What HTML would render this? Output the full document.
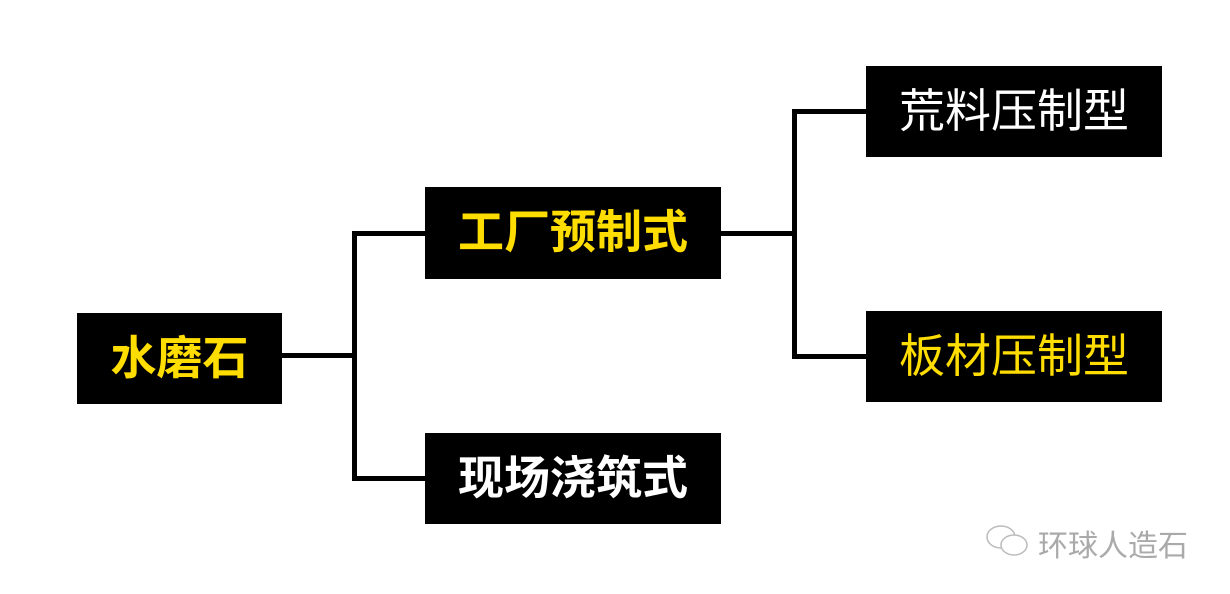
<!DOCTYPE html>
<html><head><meta charset="utf-8"><style>
body{margin:0;width:1230px;height:594px;background:#fff;position:relative;overflow:hidden;font-family:"Liberation Sans","Noto Sans CJK SC",sans-serif}
.b{position:absolute;background:#000;display:flex;align-items:center;justify-content:center;box-sizing:border-box;padding-bottom:8px}
.l{position:absolute;background:#000}
.y{color:#ffdd00;font-weight:bold;font-size:46px}
.w{color:#fff;font-weight:bold;font-size:46px}
.t{font-size:46px}
</style></head><body>
<div class="b y" style="left:77px;top:313px;width:205px;height:91px">水磨石</div>
<div class="b y" style="left:425px;top:187px;width:296px;height:92px">工厂预制式</div>
<div class="b w" style="left:425px;top:433px;width:296px;height:91px">现场浇筑式</div>
<div class="b t" style="left:866px;top:66px;width:296px;height:91px;color:#fff">荒料压制型</div>
<div class="b t" style="left:866px;top:311px;width:296px;height:91px;color:#ffdd00">板材压制型</div>
<div class="l" style="left:282px;top:353px;width:74px;height:5px"></div>
<div class="l" style="left:352px;top:231px;width:5px;height:250px"></div>
<div class="l" style="left:352px;top:231px;width:74px;height:5px"></div>
<div class="l" style="left:352px;top:476px;width:74px;height:5px"></div>
<div class="l" style="left:721px;top:231px;width:74px;height:5px"></div>
<div class="l" style="left:792px;top:109px;width:5px;height:250px"></div>
<div class="l" style="left:792px;top:109px;width:74px;height:5px"></div>
<div class="l" style="left:792px;top:354px;width:74px;height:5px"></div>
<svg style="position:absolute;left:984px;top:524px" width="50" height="36"><g fill="none" stroke="#bbb" stroke-width="1.5"><ellipse cx="17" cy="13" rx="14" ry="11"/><ellipse cx="30" cy="21" rx="13" ry="10" fill="#fff"/></g></svg>
<div style="position:absolute;left:1038px;top:521px;font-size:30px;color:#aaa;letter-spacing:0px">环球人造石</div>
</body></html>
